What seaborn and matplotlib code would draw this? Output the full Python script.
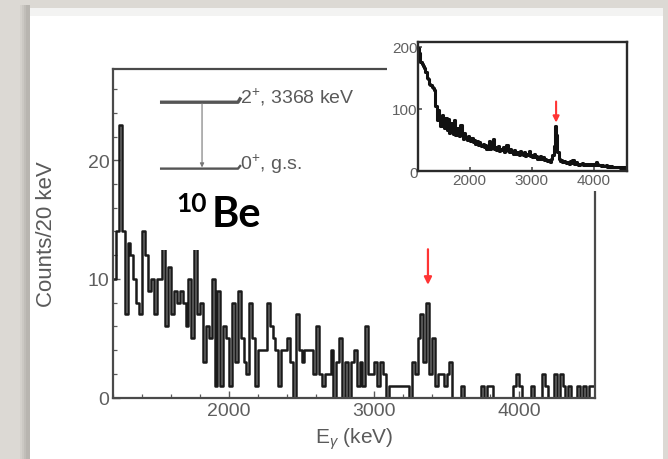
import numpy as np
import pandas as pd
import matplotlib
matplotlib.use("Agg")
import matplotlib.pyplot as plt
from matplotlib.patches import Rectangle
from matplotlib.ticker import MultipleLocator
import seaborn as sns

# ---------------- data ----------------
main_start_kev = 1200
main_bin_kev = 20
main_counts = [
    10, 14, 23, 14, 7, 13, 12, 10, 8, 7,
    14, 12, 9, 10, 7, 10, 10, 13, 6, 11,
    7, 9, 8, 9, 8, 6, 10, 5, 13, 7,
    8, 3, 6, 5, 10, 1, 9, 1, 6, 5,
    1, 8, 3, 9, 5, 3, 2, 8, 5, 1,
    4, 4, 4, 8, 6, 5, 4, 1, 4, 4,
    5, 3, 0, 7, 4, 3, 4, 4, 4, 2,
    6, 2, 1, 2, 2, 4, 0, 3, 5, 0,
    3, 0, 3, 4, 1, 3, 1, 6, 2, 2,
    3, 1, 3, 2, 0, 1, 1, 1, 1, 1,
    1, 1, 0, 3, 2, 5, 7, 3, 8, 2,
    5, 1, 2, 2, 1, 2, 3, 0, 0, 0,
    1, 0, 0, 0, 0, 0, 0, 1, 0, 1,
    1, 0, 0, 0, 0, 0, 0, 0, 1, 2,
    1, 0, 0, 0, 1, 0, 0, 0, 2, 1,
    0, 0, 2, 0, 2, 1, 0, 1, 0, 0,
    1, 0, 1, 0, 1, 1,
]

inset_start_kev = 1170
inset_bin_kev = 20
inset_counts = [
    198, 190, 176, 172, 170, 166, 160, 150, 148, 140,
    138, 136, 134, 130, 105, 82, 98, 88, 72, 90,
    80, 70, 86, 66, 84, 62, 78, 74, 60, 82,
    58, 70, 64, 56, 74, 58, 52, 62, 54, 50,
    56, 50, 48, 54, 46, 50, 44, 48, 42, 46,
    42, 40, 44, 38, 42, 36, 40, 48, 36, 38,
    52, 36, 38, 34, 40, 32, 36, 34, 38, 30,
    34, 42, 32, 30, 36, 30, 28, 34, 30, 28,
    30, 26, 32, 28, 26, 30, 24, 28, 26, 32,
    24, 26, 22, 28, 22, 24, 20, 22, 24, 20,
    22, 18, 20, 18, 16, 18, 14, 20, 26, 40,
    72, 58, 30, 20, 16, 18, 14, 16, 15, 13,
    14, 12, 16, 13, 18, 12, 11, 14, 12, 10,
    12, 11, 13, 10, 12, 9, 11, 10, 12, 9,
    10, 12, 9, 14, 11, 9, 10, 8, 9, 8,
    8, 9, 7, 8, 7, 8, 6, 7, 7, 6,
    6, 7, 5, 6, 5, 6, 5, 5,
]

main_xticks = [2000, 3000, 4000]
main_yticks = [0, 10, 20]
inset_xticks = [2000, 3000, 4000]
inset_yticks = [0, 100, 200]
peak_kev = 3368

x_label = r"E$_{\gamma}$ (keV)"
y_label = "Counts/20 keV"
upper_level_label = r"2$^{+}$, 3368 keV"
lower_level_label = r"0$^{+}$, g.s."
nucleus_mass = "10"
nucleus_symbol = "Be"

# ---------------- tables ----------------
def spectrum_frame(start, width, counts):
    n = len(counts)
    centers = start + width * np.arange(n) + width / 2
    df = pd.DataFrame({"energy": centers.astype(float),
                       "counts": np.asarray(counts, dtype=float)})
    return df, (float(start), float(start + width * n))

main_df, main_range = spectrum_frame(main_start_kev, main_bin_kev, main_counts)
inset_df, inset_range = spectrum_frame(inset_start_kev, inset_bin_kev, inset_counts)

# ---------------- style ----------------
sns.set_theme(style="white")
plt.rcParams["font.family"] = ["Liberation Sans", "DejaVu Sans"]
plt.rcParams["mathtext.fontset"] = "custom"
plt.rcParams["mathtext.rm"] = "Liberation Sans"
plt.rcParams["mathtext.it"] = "Liberation Sans:italic"

W, H = 668, 460
fig = plt.figure(figsize=(W / 100, H / 100), dpi=100)
fig.patch.set_facecolor("#dcd9d4")

def fig_rect(x0, y0, x1, y1, **kw):
    # pixel box (top-left origin) -> figure fraction rectangle
    r = Rectangle((x0 / W, 1 - y1 / H), (x1 - x0) / W, (y1 - y0) / H,
                  transform=fig.transFigure, **kw)
    fig.add_artist(r)
    return r

# shadow + white panel
for i, c in enumerate(["#d4d1cc", "#cbc8c3", "#c1beb9", "#b8b5b0"]):
    fig_rect(20 + 2 * i, 6, 30, H, facecolor=c, edgecolor="none", zorder=-12)
fig_rect(30, 9, 663, H, facecolor="white", edgecolor="none", zorder=-10)
fig_rect(30, 9, 663, 17, facecolor="#f3f3f2", edgecolor="none", zorder=-9)

# ---------------- main axes ----------------
ax = fig.add_axes([113 / W, 1 - 398.5 / H, (595 - 113) / W, (398.5 - 70) / H])
ax.patch.set_alpha(0.0)
sns.histplot(data=main_df, x="energy", weights="counts",
             binwidth=main_bin_kev, binrange=main_range,
             element="step", fill=False, color="#1a1a1a", linewidth=1.8, ax=ax)
ax.set_xlim(1200, 4524)
ax.set_ylim(0, 27.7)
ax.set_xticks(main_xticks)
ax.set_yticks(main_yticks)
ax.xaxis.set_minor_locator(MultipleLocator(200))
ax.yaxis.set_minor_locator(MultipleLocator(2))
ax.tick_params(axis="both", which="both", direction="in", color="#5a5a5a",
               labelcolor="#5e5e5e", labelsize=14, bottom=True, left=True,
               top=False, right=False)
ax.tick_params(which="major", length=5, width=1.0)
ax.tick_params(which="minor", length=3, width=0.9)
ax.tick_params(axis="x", pad=3)
ax.tick_params(axis="y", pad=2.5)
for s in ax.spines.values():
    s.set_color("#4a4a4a")
    s.set_linewidth(1.6)
ax.set_xlabel(x_label, fontsize=15, color="#5a5a5a")
ax.set_ylabel(y_label, fontsize=16, color="#5a5a5a")
ax.xaxis.set_label_coords(0.5, -0.085)
ax.yaxis.set_label_coords(-0.116, 0.5)

# red arrow at the 3368 keV peak
ax.annotate("", xy=(peak_kev + 4, 9.5), xytext=(peak_kev + 4, 12.5),
            arrowprops=dict(arrowstyle="-|>", color="#ff3434", lw=1.6,
                            mutation_scale=11, shrinkA=0, shrinkB=0))

# level scheme
lev_col = "#555555"
ax.plot([1524, 2062, 2082], [24.9, 24.9, 25.3], color=lev_col, lw=2.4,
        solid_capstyle="butt")
ax.plot([1524, 2062, 2082], [19.3, 19.3, 19.6], color=lev_col, lw=1.7,
        solid_capstyle="butt")
ax.annotate("", xy=(1814, 19.4), xytext=(1814, 24.8),
            arrowprops=dict(arrowstyle="-|>", color="#777777", lw=0.8,
                            mutation_scale=6, shrinkA=0, shrinkB=0))
ax.text(2078, 25.4, upper_level_label, fontsize=14, color="#5a5a5a",
        va="center", ha="left")
ax.text(2078, 19.75, lower_level_label, fontsize=14, color="#5a5a5a",
        va="center", ha="left")

# nucleus label with white patch
ax.add_patch(Rectangle((1510, 12.45), 720, 6.2, facecolor="white",
                       edgecolor="none", zorder=3))
ax.text(1738, 16.4, nucleus_mass, fontsize=19, fontweight="bold",
        family=["Lato", "DejaVu Sans"], color="black", ha="center",
        va="center", zorder=4)
ax.text(1880, 14.5, nucleus_symbol, fontsize=30, fontweight="bold",
        family=["Lato", "DejaVu Sans"], color="black", ha="left",
        va="baseline", zorder=4)

# white area behind the inset
fig_rect(387, 32, 636, 192, facecolor="white", edgecolor="none", zorder=1)

# ---------------- inset ----------------
ins = fig.add_axes([418 / W, 1 - 172 / H, (627 - 418) / W, (172 - 43) / H],
                   zorder=2)
ins.set_facecolor("white")
sns.histplot(data=inset_df, x="energy", weights="counts",
             binwidth=inset_bin_kev, binrange=inset_range,
             element="step", fill=False, color="#111111", linewidth=2.2, ax=ins)
ins.set_xlim(1170, 4530)
ins.set_ylim(0, 208)
ins.set_xticks(inset_xticks)
ins.set_yticks(inset_yticks)
ins.tick_params(axis="both", which="both", direction="in", length=3,
                color="#555555", labelcolor="#606060", labelsize=11,
                bottom=True, left=True, top=False, right=False)
ins.tick_params(axis="x", pad=1.5)
ins.tick_params(axis="y", pad=0.3)
ins.set_xlabel("")
ins.set_ylabel("")
for s in ins.spines.values():
    s.set_color("#2a2a2a")
    s.set_linewidth(1.7)
ins.annotate("", xy=(peak_kev + 22, 78), xytext=(peak_kev + 22, 112),
             arrowprops=dict(arrowstyle="-|>", color="#ff3434", lw=1.5,
                             mutation_scale=9, shrinkA=0, shrinkB=0))

fig.savefig("out.png", dpi=100, facecolor=fig.get_facecolor())
